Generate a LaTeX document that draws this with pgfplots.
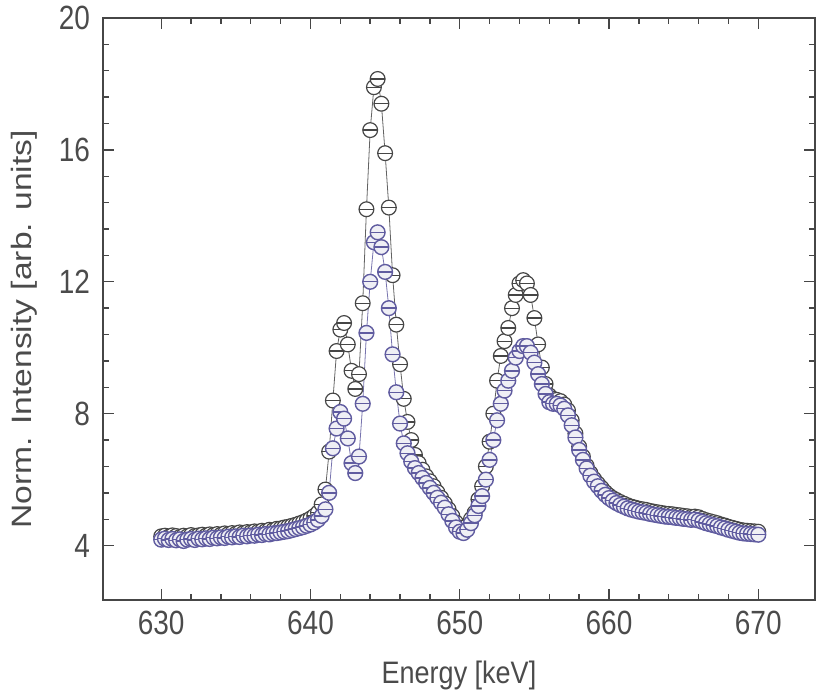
\documentclass[border=0pt]{standalone}
\usepackage{fontspec}
\setmainfont{Liberation Sans}
\usepackage{pgfplots}
\usepackage{pgfplotstable}
\pgfplotsset{compat=1.18}
\definecolor{txt}{RGB}{75,75,75}
\definecolor{axc}{RGB}{70,70,70}
\definecolor{serA}{RGB}{70,70,70}
\definecolor{serB}{RGB}{96,92,160}
\pgfdeclareplotmark{ominus}{%
  \pgfpathcircle{\pgfpointorigin}{\pgfplotmarksize}%
  \pgfusepathqfillstroke
  \pgfpathmoveto{\pgfqpoint{-\pgfplotmarksize}{0pt}}%
  \pgfpathlineto{\pgfqpoint{\pgfplotmarksize}{0pt}}%
  \pgfusepathqstroke
}
\pgfplotstableread{
E I
630.00 4.28
630.25 4.30
630.50 4.27
630.75 4.31
631.00 4.29
631.25 4.26
631.50 4.30
631.75 4.28
632.00 4.32
632.25 4.29
632.50 4.31
632.75 4.33
633.00 4.30
633.25 4.34
633.50 4.32
633.75 4.35
634.00 4.33
634.25 4.37
634.50 4.35
634.75 4.38
635.00 4.36
635.25 4.40
635.50 4.38
635.75 4.41
636.00 4.40
636.25 4.43
636.50 4.42
636.75 4.45
637.00 4.44
637.25 4.48
637.50 4.47
637.75 4.51
638.00 4.52
638.25 4.55
638.50 4.57
638.75 4.60
639.00 4.63
639.25 4.67
639.50 4.71
639.75 4.76
640.00 4.82
640.25 4.90
640.50 5.00
640.75 5.25
641.00 5.70
641.25 6.85
641.50 8.40
641.75 9.90
642.00 10.55
642.25 10.75
642.50 10.10
642.75 9.30
643.00 8.75
643.25 9.20
643.50 11.35
643.75 14.20
644.00 16.60
644.25 17.90
644.50 18.15
644.75 17.40
645.00 15.90
645.25 14.25
645.50 12.20
645.75 10.70
646.00 9.50
646.25 8.45
646.50 7.75
646.75 7.20
647.00 6.75
647.25 6.50
647.50 6.30
647.75 6.10
648.00 5.95
648.25 5.80
648.50 5.62
648.75 5.45
649.00 5.28
649.25 5.10
649.50 4.90
649.75 4.70
650.00 4.55
650.25 4.50
650.50 4.60
650.75 4.80
651.00 5.00
651.25 5.40
651.50 5.80
651.75 6.40
652.00 7.15
652.25 8.00
652.50 9.00
652.75 9.75
653.00 10.20
653.25 10.60
653.50 11.20
653.75 11.60
654.00 11.95
654.25 12.05
654.50 11.95
654.75 11.60
655.00 10.90
655.25 10.10
655.50 9.40
655.75 8.90
656.00 8.55
656.25 8.45
656.50 8.42
656.75 8.38
657.00 8.28
657.25 8.10
657.50 7.80
657.75 7.40
658.00 7.00
658.25 6.70
658.50 6.42
658.75 6.20
659.00 6.02
659.25 5.88
659.50 5.75
659.75 5.62
660.00 5.52
660.25 5.44
660.50 5.38
660.75 5.32
661.00 5.27
661.25 5.22
661.50 5.18
661.75 5.15
662.00 5.12
662.25 5.10
662.50 5.08
662.75 5.05
663.00 5.03
663.25 5.01
663.50 4.99
663.75 4.97
664.00 4.96
664.25 4.95
664.50 4.93
664.75 4.92
665.00 4.90
665.25 4.89
665.50 4.87
665.75 4.88
666.00 4.86
666.25 4.81
666.50 4.77
666.75 4.74
667.00 4.71
667.25 4.68
667.50 4.64
667.75 4.61
668.00 4.57
668.25 4.54
668.50 4.51
668.75 4.48
669.00 4.46
669.25 4.45
669.50 4.44
669.75 4.43
670.00 4.42
}\dataA
\pgfplotstableread{
E I
630.00 4.18
630.25 4.21
630.50 4.17
630.75 4.20
631.00 4.16
631.25 4.19
631.50 4.14
631.75 4.18
632.00 4.20
632.25 4.17
632.50 4.21
632.75 4.19
633.00 4.22
633.25 4.20
633.50 4.24
633.75 4.22
634.00 4.25
634.25 4.23
634.50 4.27
634.75 4.25
635.00 4.28
635.25 4.26
635.50 4.30
635.75 4.28
636.00 4.31
636.25 4.30
636.50 4.33
636.75 4.32
637.00 4.35
637.25 4.34
637.50 4.37
637.75 4.38
638.00 4.40
638.25 4.42
638.50 4.44
638.75 4.47
639.00 4.50
639.25 4.53
639.50 4.56
639.75 4.60
640.00 4.64
640.25 4.70
640.50 4.78
640.75 4.90
641.00 5.10
641.25 5.60
641.50 6.95
641.75 7.55
642.00 8.05
642.25 7.85
642.50 7.25
642.75 6.50
643.00 6.20
643.25 6.70
643.50 8.30
643.75 10.45
644.00 12.00
644.25 13.20
644.50 13.50
644.75 13.05
645.00 12.30
645.25 11.20
645.50 9.80
645.75 8.65
646.00 7.70
646.25 7.10
646.50 6.80
646.75 6.55
647.00 6.35
647.25 6.20
647.50 6.05
647.75 5.90
648.00 5.75
648.25 5.60
648.50 5.45
648.75 5.30
649.00 5.15
649.25 4.95
649.50 4.75
649.75 4.55
650.00 4.42
650.25 4.38
650.50 4.48
650.75 4.68
651.00 4.92
651.25 5.20
651.50 5.50
651.75 6.00
652.00 6.60
652.25 7.20
652.50 7.80
652.75 8.30
653.00 8.70
653.25 9.00
653.50 9.30
653.75 9.70
654.00 9.90
654.25 10.05
654.50 10.05
654.75 9.85
655.00 9.55
655.25 9.20
655.50 8.90
655.75 8.60
656.00 8.35
656.25 8.30
656.50 8.30
656.75 8.25
657.00 8.15
657.25 7.95
657.50 7.65
657.75 7.28
658.00 6.90
658.25 6.60
658.50 6.34
658.75 6.12
659.00 5.94
659.25 5.80
659.50 5.66
659.75 5.54
660.00 5.44
660.25 5.36
660.50 5.29
660.75 5.23
661.00 5.18
661.25 5.13
661.50 5.09
661.75 5.06
662.00 5.03
662.25 5.01
662.50 4.99
662.75 4.96
663.00 4.94
663.25 4.92
663.50 4.90
663.75 4.88
664.00 4.87
664.25 4.86
664.50 4.84
664.75 4.83
665.00 4.81
665.25 4.80
665.50 4.78
665.75 4.79
666.00 4.76
666.25 4.72
666.50 4.68
666.75 4.65
667.00 4.62
667.25 4.59
667.50 4.55
667.75 4.52
668.00 4.48
668.25 4.45
668.50 4.42
668.75 4.39
669.00 4.37
669.25 4.36
669.50 4.35
669.75 4.34
670.00 4.33
}\dataB
\begin{document}
\begin{tikzpicture}
\path[use as bounding box] (0,0) rectangle (408.5pt,349.5pt);
\begin{axis}[
  at={(51.5pt,49.5pt)}, anchor=south west,
  scale only axis, width=356pt, height=291pt,
  xmin=626.1, xmax=673.8, ymin=2.35, ymax=20,
  xtick={630,640,650,660,670}, ytick={4,8,12,16,20},
  minor x tick num=4, minor y tick num=4,
  major tick length=5.5pt, minor tick length=3pt,
  tick align=inside,
  axis line style={axc, line width=0.8pt},
  every tick/.style={axc, line width=0.7pt},
  xticklabel={\scalebox{1}[1.2]{\pgfmathprintnumber[assume math mode=true,1000 sep={}]{\tick}}},
  yticklabel={\scalebox{1}[1.2]{\pgfmathprintnumber[assume math mode=true,1000 sep={}]{\tick}}},
  ticklabel style={font=\fontsize{14}{16}\selectfont, text=txt},
  xticklabel style={yshift=-2pt},
  yticklabel style={xshift=-3pt},
  xlabel={\scalebox{1}[1.15]{Energy [keV]}},
  ylabel={\scalebox{1.2}[1]{Norm. Intensity [arb. units]}},
  label style={font=\fontsize{14}{16}\selectfont, text=txt},
  xlabel style={font=\fontsize{13.5}{15}\selectfont, at={(axis description cs:0.5,-0.13)}, anchor=center},
  ylabel style={at={(axis description cs:-0.111,0.465)}, anchor=center},
  clip=false,
]
\addplot[color=serA!85, line width=0.4pt, mark=ominus, mark size=3.7pt,
  mark options={draw=serA, fill=white, line width=0.6pt}] table[x=E,y=I] {\dataA};
\addplot[color=serB!85, line width=0.4pt, mark=ominus, mark size=3.7pt,
  mark options={draw=serB, fill=serB!10, line width=0.7pt}] table[x=E,y=I] {\dataB};
\end{axis}
\end{tikzpicture}
\end{document}
